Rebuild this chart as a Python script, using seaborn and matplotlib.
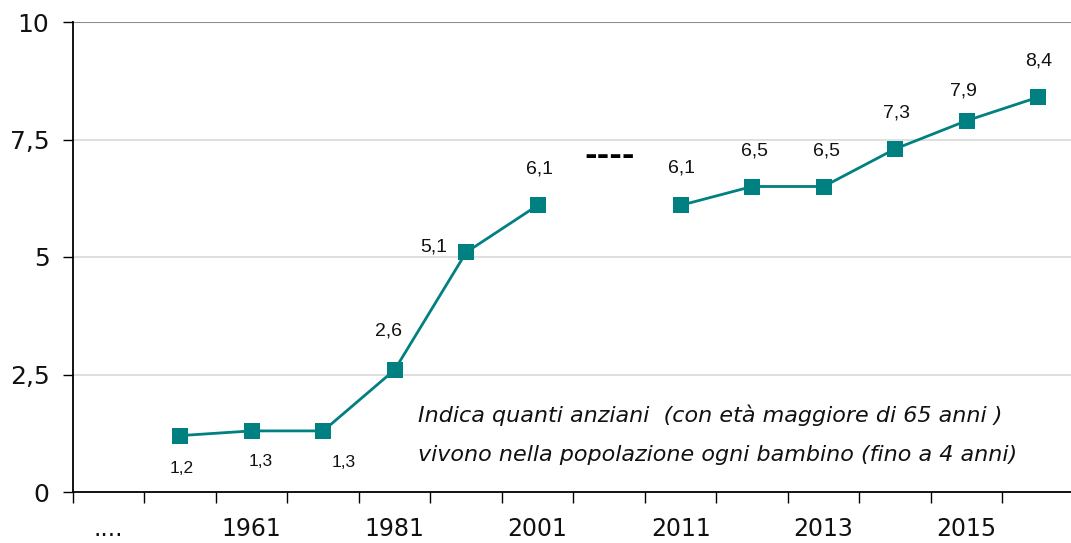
import matplotlib
matplotlib.use("Agg")
import matplotlib.pyplot as plt
import seaborn as sns
import pandas as pd
import numpy as np

# ---- data ----
categories = ["....", "1951", "1961", "1971", "1981", "1991", "2001", "",
              "2011", "2012", "2013", "2014", "2015", "2016"]
values = [None, 1.2, 1.3, 1.3, 2.6, 5.1, 6.1, None,
          6.1, 6.5, 6.5, 7.3, 7.9, 8.4]
segments = [None, "a", "a", "a", "a", "a", "a", None,
            "b", "b", "b", "b", "b", "b"]
value_labels = ["", "1,2", "1,3", "1,3", "2,6", "5,1", "6,1", "",
                "6,1", "6,5", "6,5", "7,3", "7,9", "8,4"]
shown_xlabels = ["....", "1961", "1981", "2001", "2011", "2013", "2015"]
y_ticks = [0, 2.5, 5, 7.5, 10]
y_ticklabels = ["0", "2,5", "5", "7,5", "10"]
gap_marker_text = "----"
gap_marker_value = 7.13
note_lines = ["Indica quanti anziani  (con età maggiore di 65 anni )",
              "vivono nella popolazione ogni bambino (fino a 4 anni)"]

teal = "#008080"

sns.set_theme(style="white")
plt.rcParams["font.family"] = ["DejaVu Sans"]

df = pd.DataFrame({"pos": np.arange(len(categories)),
                   "cat": categories,
                   "value": values,
                   "seg": segments}).dropna()

fig = plt.figure(figsize=(10.71, 5.43), dpi=100)
ax = fig.add_axes([73 / 1071, 1 - 492 / 543, 1 - 73 / 1071, (492 - 22) / 543])

sns.lineplot(data=df, x="pos", y="value", hue="seg",
             palette={"a": teal, "b": teal}, marker="s", markersize=11,
             markeredgewidth=0, linewidth=2, legend=False, ax=ax,
             estimator=None)

ax.set_xlim(-0.5, 13.46)
ax.set_ylim(0, 10)

# gridlines
for yv in y_ticks[1:-1]:
    ax.axhline(yv, color="#d9d9d9", linewidth=1.2, zorder=0)
ax.axhline(10, color="#8c8c8c", linewidth=1.5, zorder=0)

# spines
for s in ["top", "right"]:
    ax.spines[s].set_visible(False)
ax.spines["left"].set_color("black")
ax.spines["bottom"].set_color("black")
ax.spines["left"].set_linewidth(1.3)
ax.spines["bottom"].set_linewidth(1.3)

# y ticks
ax.set_yticks(y_ticks)
ax.set_yticklabels(y_ticklabels, fontsize=18, color="#111111")
ax.tick_params(axis="y", length=7, width=1, color="black", pad=10, left=True)

# x ticks: labels every other category, tick marks at boundaries
label_pos = [i for i, c in enumerate(categories) if c in shown_xlabels]
ax.set_xticks(label_pos)
ax.set_xticklabels([categories[i] for i in label_pos], fontsize=17,
                   color="#111111")
ax.tick_params(axis="x", which="major", length=0, pad=18)
ax.set_xticks(np.arange(-0.5, 13.5, 1.0), minor=True)
ax.tick_params(axis="x", which="minor", length=8, width=1, color="black",
               bottom=True)
ax.set_xlabel("")
ax.set_ylabel("")

# data labels (offsets in pixels)
offsets = {1: (1, -33), 2: (9, -31), 3: (20, -32), 4: (-6, 39), 5: (-32, 5),
           6: (2, 36), 8: (1, 37), 9: (2, 36), 10: (3, 36), 11: (1, 36),
           12: (-3, 30), 13: (1, 36)}
for i, (v, lab) in enumerate(zip(values, value_labels)):
    if v is None:
        continue
    dx, dy = offsets[i]
    fs = 12.5 if i in (1, 2, 3) else 14
    ax.annotate(lab, (i, v), xytext=(dx, dy), textcoords="offset pixels",
                ha="center", va="center", fontsize=fs,
                family=["Liberation Sans"], color="#111111")

# gap marker
ax.text(7, gap_marker_value, gap_marker_text, ha="center", va="center",
        fontsize=22, fontweight="bold", color="black")

# note
ax.text(4.33, 1.63, note_lines[0], ha="left", va="center", fontsize=16,
        style="italic", color="#111111")
ax.text(4.33, 0.78, note_lines[1], ha="left", va="center", fontsize=16,
        style="italic", color="#111111")

fig.savefig("out.png", dpi=100)
